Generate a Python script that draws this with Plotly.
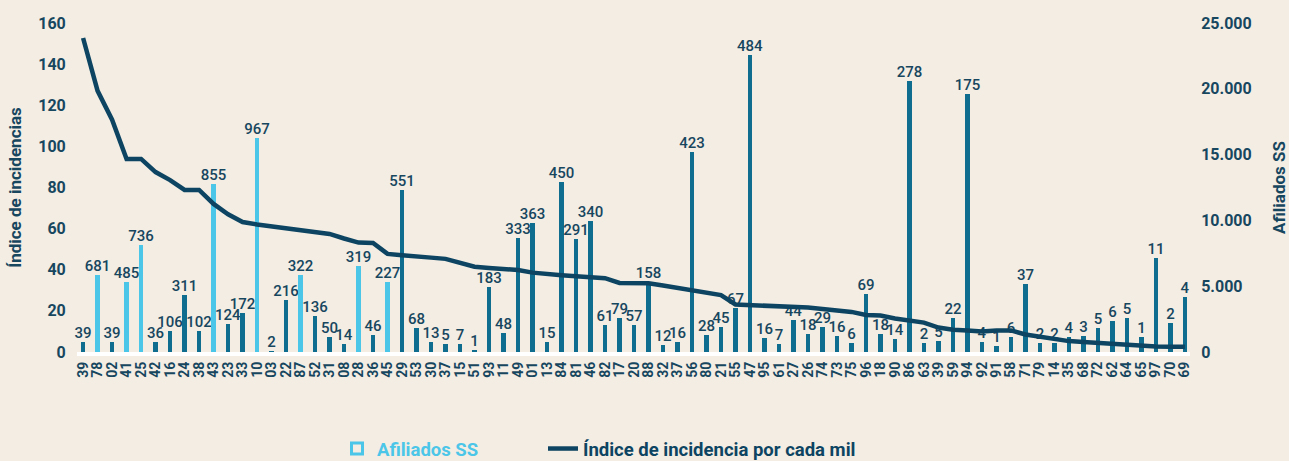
import plotly.graph_objects as go

# ---- data ----
codigos = ["39", "78", "02", "41", "25", "42", "16", "24", "38", "43", "23", "33", "10", "03",
           "22", "87", "52", "31", "08", "28", "36", "45", "29", "53", "30", "37", "15", "51",
           "93", "11", "49", "01", "13", "84", "81", "46", "82", "17", "20", "88", "32", "37",
           "56", "80", "21", "55", "47", "95", "61", "27", "26", "74", "73", "75", "96", "18",
           "90", "86", "63", "39", "59", "94", "92", "91", "58", "71", "79", "14", "35", "68",
           "72", "62", "64", "65", "97", "70", "69"]

afiliados = [730, 5850, 730, 5340, 8130, 730, 1620, 4310, 1620, 12770,
             2100, 2960, 16260, 60, 3980, 5850, 2740, 1170, 610, 6560,
             1270, 5340, 12310, 1800, 735, 585, 585, 100, 4920, 1470,
             8690, 9780, 735, 12940, 8560, 9980, 2030, 2610, 2030, 5300,
             530, 735, 15220, 1290, 1920, 3320, 22570, 1040, 610, 2430,
             1340, 1920, 1220, 660, 4380, 1340, 1010, 20590, 660, 860,
             2560, 19580, 785, 455, 1115, 5170, 660, 660, 1115, 1240,
             1850, 2380, 2560, 1165, 7170, 2180, 4200]

incidencias = [39, 681, 39, 485, 736, 36, 106, 311, 102, 855,
               124, 172, 967, 2, 216, 322, 136, 50, 14, 319,
               46, 227, 551, 68, 13, 5, 7, 1, 183, 48,
               333, 363, 15, 450, 291, 340, 61, 79, 57, 158,
               12, 16, 423, 28, 45, 67, 484, 16, 7, 44,
               18, 29, 16, 6, 69, 18, 14, 278, 2, 5,
               22, 175, 4, 1, 6, 37, 2, 2, 4, 3,
               5, 6, 5, 1, 11, 2, 4]

indice = [152.7, 127, 113, 93.9, 93.9, 87.5, 83.6, 78.8, 78.8, 72,
          67, 63.2, 62, 61, 60, 59.3, 58.4, 57.4, 55.2, 53.2,
          53, 47.7, 47, 46.2, 45.9, 45.3, 43.3, 41.5, 40.9, 40.5,
          39.9, 38.6, 37.8, 37.3, 36.8, 36.3, 35.9, 33.6, 33.4, 33.4,
          32.3, 31.1, 30.2, 28.9, 27.7, 23.1, 22.9, 22.7, 22.5, 21.9,
          21.6, 20.9, 20.2, 19.5, 18.0, 17.7, 16.3, 15.3, 14.3, 11.9,
          10.8, 10.5, 10.0, 10.5, 10.5, 8.5, 7.3, 6.1, 5.3, 4.9,
          4.4, 3.7, 3.3, 3.0, 2.7, 2.6, 2.6]

destacados = [1, 3, 4, 9, 12, 15, 19, 21]  # indices of light-blue bars

left_ticks = [0, 20, 40, 60, 80, 100, 120, 140, 160]
right_ticks = [0, 5000, 10000, 15000, 20000, 25000]

# ---- style ----
LIGHT = "#4cc6e8"
DARK_BAR = "#0f6d8f"
NAVY = "#0c4462"
TEXT = "#17465f"
BG = "#f3ede3"
FONT = "Roboto"

x = list(range(len(codigos)))
bar_colors = [LIGHT if i in destacados else DARK_BAR for i in x]

fig = go.Figure()

# legend-only entry for the bars (hollow square)
fig.add_trace(go.Scatter(
    x=[None], y=[None], mode="markers", yaxis="y",
    name=f"<span style='color:{LIGHT}'>Afiliados SS</span>",
    marker=dict(symbol="square-open", size=11, color=LIGHT, line=dict(width=3, color=LIGHT)),
    showlegend=True, legend="legend",
))

fig.add_trace(go.Bar(
    x=x, y=afiliados, yaxis="y",
    marker=dict(color=bar_colors, line=dict(width=0)),
    width=0.33,
    text=[str(v) for v in incidencias],
    textposition="outside",
    textfont=dict(family=FONT, size=15, color=TEXT, weight=500),
    constraintext="none",
    cliponaxis=False,
    showlegend=False,
    hoverinfo="skip",
))

fig.add_trace(go.Scatter(
    x=x, y=indice, yaxis="y2", mode="lines",
    name=f"<span style='color:{NAVY}'>Índice de incidencia por cada mil</span>",
    line=dict(color=NAVY, width=4.5),
    legend="legend2",
))

legend_common = dict(
    orientation="h",
    xref="container", yref="container",
    xanchor="left",
    y=1 - 449 / 461, yanchor="middle",
    font=dict(family=FONT, size=18.5, weight=700),
    bgcolor="rgba(0,0,0,0)",
)

fig.update_layout(
    width=1289, height=461,
    paper_bgcolor=BG, plot_bgcolor=BG,
    margin=dict(l=77, r=99, t=23, b=109, autoexpand=False),
    separators=",.",
    font=dict(family=FONT, color=TEXT),
    bargap=0,
    xaxis=dict(
        range=[-0.42, 76.35],
        tickmode="array", tickvals=x, ticktext=codigos,
        tickangle=-90,
        tickfont=dict(family=FONT, size=14, color=TEXT, weight=700),
        showgrid=False, zeroline=False,
        showline=True, linecolor="white", linewidth=4,
        ticks="", ticklen=0,
        automargin=False,
    ),
    yaxis=dict(
        side="right",
        range=[0, 25000],
        tickmode="array", tickvals=right_ticks,
        tickformat=",d",
        ticks="outside", ticklen=7, tickcolor="rgba(0,0,0,0)",
        tickfont=dict(family=FONT, size=16, color=TEXT, weight=700),
        showgrid=False, zeroline=False, showline=False,
        automargin=False,
        title=dict(text="Afiliados SS", font=dict(family=FONT, size=17, color=TEXT, weight=700), standoff=32),
    ),
    yaxis2=dict(
        side="left", overlaying="y",
        range=[0, 160],
        tickmode="array", tickvals=left_ticks,
        ticks="outside", ticklen=7, tickcolor="rgba(0,0,0,0)",
        tickfont=dict(family=FONT, size=16, color=TEXT, weight=700),
        showgrid=False, zeroline=False, showline=False,
        automargin=False,
        title=dict(text="Índice de incidencias", font=dict(family=FONT, size=17, color=TEXT, weight=700), standoff=12),
    ),
    legend=dict(x=337 / 1289, **legend_common),
    legend2=dict(x=543 / 1289, **legend_common),
)

fig.write_html(
    "out.html",
    config={"displayModeBar": False},
    post_script="document.body.style.margin='0';document.body.style.overflow='hidden';",
)
